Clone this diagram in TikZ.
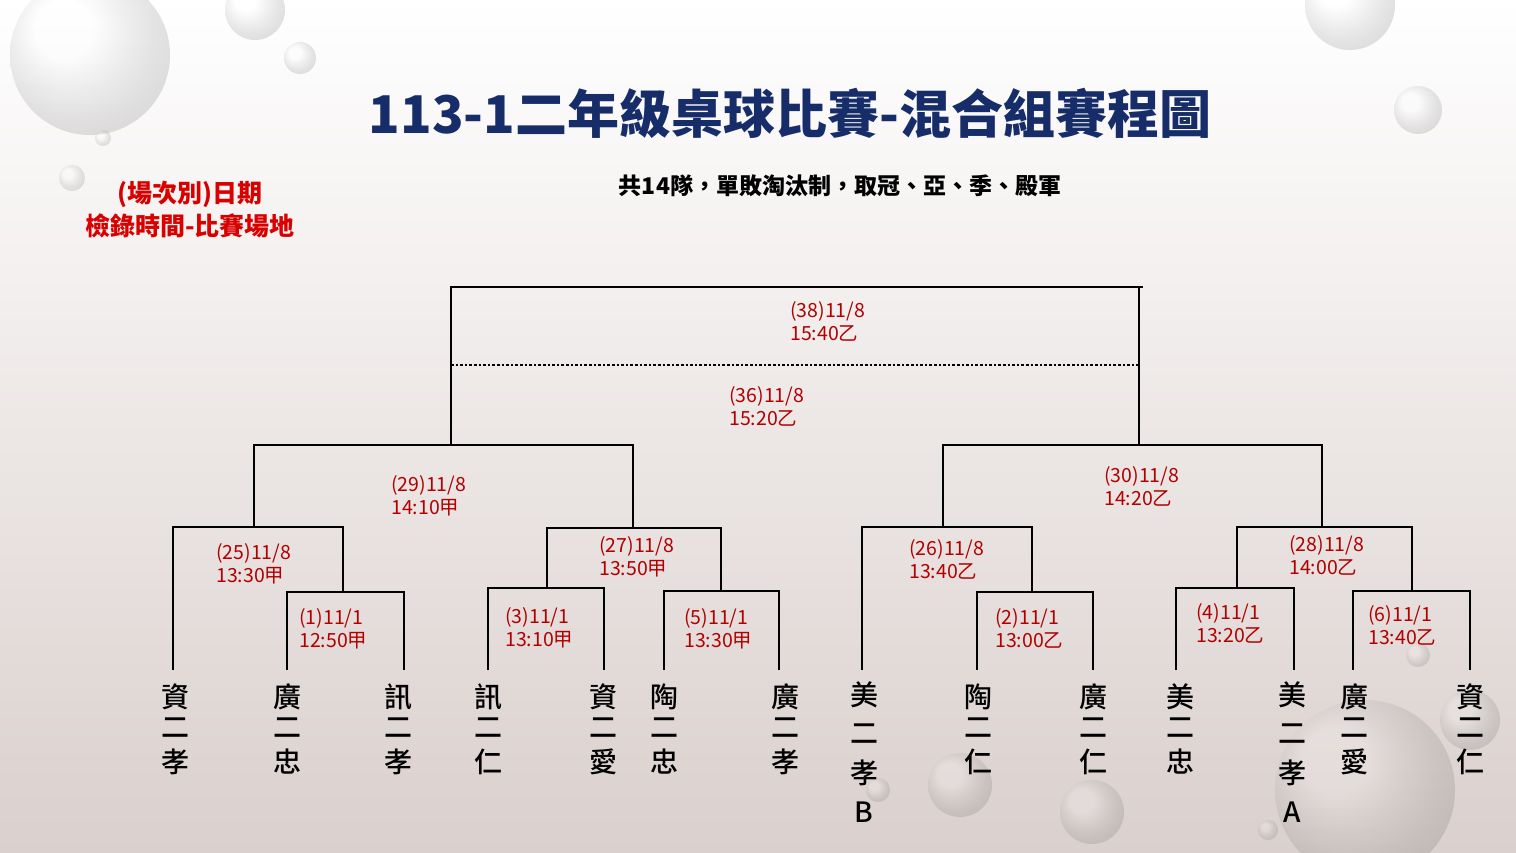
\documentclass[tikz,border=0pt]{standalone}
\usepackage{fontspec}
\setmainfont{Noto Sans CJK TC}
\newfontfamily\med{Noto Sans CJK TC Medium}
\begin{document}
\begin{tikzpicture}[x=1pt,y=-1pt,
  br/.style={line width=2.6pt,black},
  lab/.style={anchor=north west,align=left,text=red!70!black,font=\fontsize{19.5}{23}\selectfont,inner sep=0pt},
  leaf/.style={inner sep=0pt,font=\med\fontsize{28}{32}\selectfont}]
\shade[top color=white,bottom color={rgb,255:red,218;green,208;blue,205}] (0,0) rectangle (1516,853);
\useasboundingbox (0,0) rectangle (1516,853);
% droplets
\foreach \x/\y/\r in {90/55/80,255/10/30,300/58/16,72/178/13,103/138/8,1418/110/24,1350/5/45,960/785/32,1092/812/32,1470/720/30,1365/790/90,878/790/12,1268/830/10,1418/655/12}
  \shade[ball color=white,opacity=0.2] (\x,\y) circle (\r);
\node (title) at (790,113) {\fontsize{52}{56}\selectfont\bfseries\color[RGB]{23,45,105}113-1二年級桌球比賽-混合組賽程圖};
\node (sub) at (840,186) {\fontsize{23}{26}\selectfont\bfseries 共14隊，單敗淘汰制，取冠、亞、季、殿軍};
\node[align=center,text=red!85!black,font=\fontsize{25}{33}\selectfont\bfseries] (legend) at (190,210) {(場次別)日期\\檢錄時間-比賽場地};
% leaves
\foreach \n/\x/\a/\c in {l1/175/資/孝,l2/287/廣/忠,l3/398/訊/孝,l4/488/訊/仁,l5/603/資/愛,l6/664/陶/忠,l7/785/廣/孝,l9/978/陶/仁,l10/1093/廣/仁,l11/1180/美/忠,l13/1354/廣/愛,l14/1470/資/仁}{
  \node[leaf] (\n) at (\x,697) {\a};
  \node[leaf] (\n m) at (\x,728) {二};
  \node[leaf] (\n b) at (\x,762) {\c};}
\foreach \n/\x/\s in {l8/864/B,l12/1292/A}{
  \node[leaf] (\n) at (\x,695) {美};
  \node[leaf] (\n m) at (\x,734) {二};
  \node[leaf] (\n b) at (\x,773) {孝};
  \node[leaf] (\n s) at (\x,812) {\s};}
% matches
\draw[br] (287,670)--(287,592)--(404,592)--(404,670);
\draw[br] (173,670)--(173,527)--(343,527)--(343,592);
\draw[br] (488,670)--(488,588)--(604,588)--(604,670);
\draw[br] (664,670)--(664,591)--(779,591)--(779,670);
\draw[br] (547,588)--(547,528)--(721,528)--(721,591);
\draw[br] (254,527)--(254,445)--(633,445)--(633,528);
\draw[br] (977,670)--(977,592)--(1093,592)--(1093,670);
\draw[br] (862,670)--(862,527)--(1032,527)--(1032,592);
\draw[br] (1176,670)--(1176,588)--(1294,588)--(1294,670);
\draw[br] (1353,670)--(1353,591)--(1470,591)--(1470,670);
\draw[br] (1237,588)--(1237,527)--(1412,527)--(1412,591);
\draw[br] (943,527)--(943,445)--(1322,445)--(1322,527);
\draw[br] (451,445)--(451,287)--(1143,287);
\draw[br] (1139,445)--(1139,287);
\draw[line width=2.6pt,dotted] (451,365)--(1139,365);
\node[lab] (m1) at (299,608) {(1)11/1\\12:50甲};
\node[lab] (m25) at (216,543) {(25)11/8\\13:30甲};
\node[lab] (m3) at (505,607) {(3)11/1\\13:10甲};
\node[lab] (m5) at (684,608) {(5)11/1\\13:30甲};
\node[lab] (m27) at (599,536) {(27)11/8\\13:50甲};
\node[lab] (m29) at (391,475) {(29)11/8\\14:10甲};
\node[lab] (m2) at (995,608) {(2)11/1\\13:00乙};
\node[lab] (m26) at (909,539) {(26)11/8\\13:40乙};
\node[lab] (m4) at (1196,603) {(4)11/1\\13:20乙};
\node[lab] (m6) at (1368,605) {(6)11/1\\13:40乙};
\node[lab] (m28) at (1289,535) {(28)11/8\\14:00乙};
\node[lab] (m30) at (1104,466) {(30)11/8\\14:20乙};
\node[lab] (m36) at (729,386) {(36)11/8\\15:20乙};
\node[lab] (m38) at (790,301) {(38)11/8\\15:40乙};
\end{tikzpicture}
\end{document}
